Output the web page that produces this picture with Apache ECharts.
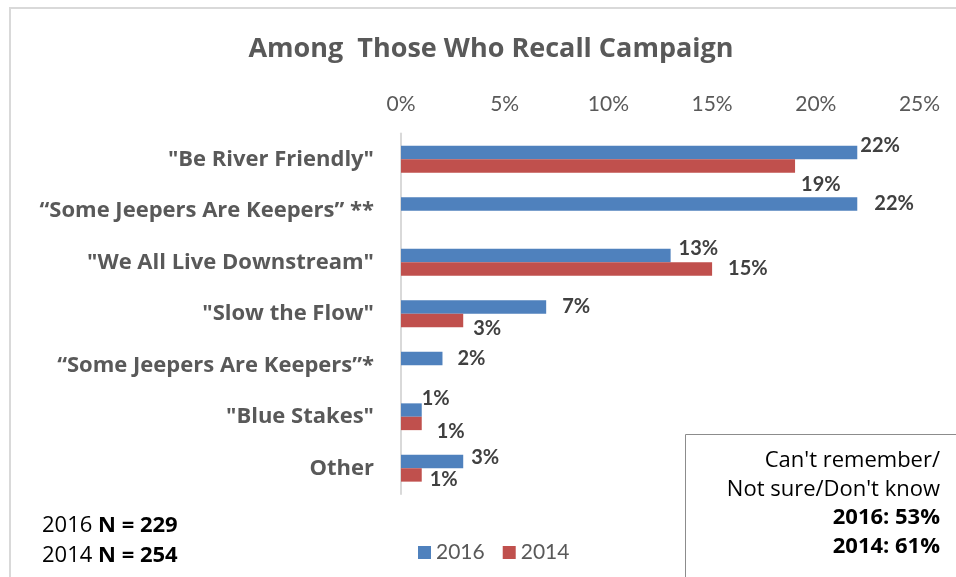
<!DOCTYPE html>
<html>
<head>
<meta charset="utf-8">
<title>Among Those Who Recall Campaign</title>
<script src="https://cdn.jsdelivr.net/npm/echarts@6/dist/echarts.min.js"></script>
<style>
  html, body { margin: 0; padding: 0; background: #ffffff; }
  #chart { width: 956px; height: 577px; }
</style>
</head>
<body>
<div id="chart"></div>
<script>
// Campaign slogans, top to bottom
const categories = [
  '"Be River Friendly"',
  '\u201CSome Jeepers Are Keepers\u201D **',
  '"We All Live Downstream"',
  '"Slow the Flow"',
  '\u201CSome Jeepers Are Keepers\u201D*',
  '"Blue Stakes"',
  'Other'
];

// Share of respondents recalling each campaign (%)
const values2016 = [22, 22, 13, 7, 2, 1, 3];
const values2014 = [19, null, 15, 3, null, 1, 1];

const seriesNames = ['2016', '2014'];
const sampleSizes = ['229', '254'];
const notSure = ['53%', '61%'];

// Hand-placed nudges for the value labels (px from bar end / bar centre)
const labelNudge2016 = [[3, -7], [17, -1], [8, -7], [16, -1], [15, 0], [0, -12], [8, -4]];
const labelNudge2014 = [[6, 19], null, [16, 0], [10, 8.5], null, [15, 8.5], [8, 4.5]];

const NUM_FONT = 'Lato';
const TEXT_FONT = 'Open Sans';

function toItems(values, nudges) {
  return values.map((v, i) => v == null ? null : {
    value: v,
    label: { offset: nudges[i] }
  });
}

const chart = echarts.init(document.getElementById('chart'), null, { renderer: 'canvas' });

const labelStyle = {
  show: true,
  position: 'right',
  distance: 0,
  formatter: '{c}%',
  fontFamily: NUM_FONT,
  fontWeight: 'bold',
  fontSize: 20,
  color: '#404040'
};

const boxLine = (text, y, bold) => ({
  type: 'text',
  x: 940, y: y,
  style: {
    text: text, align: 'right', verticalAlign: 'middle',
    fontFamily: TEXT_FONT, fontSize: 22, fontWeight: bold ? 'bold' : 'normal', fill: '#000000'
  }
});

const sampleLine = (i, y) => ({
  type: 'text',
  x: 42,
  y: y,
  style: {
    text: seriesNames[i] + ' {b|N = ' + sampleSizes[i] + '}',
    verticalAlign: 'middle',
    fontFamily: TEXT_FONT,
    fontSize: 22,
    fill: '#000000',
    rich: { b: { fontFamily: TEXT_FONT, fontSize: 22, fontWeight: 'bold', fill: '#000000' } }
  }
});

chart.setOption({
  animation: false,
  backgroundColor: '#ffffff',
  title: {
    text: 'Among  Those Who Recall Campaign',
    left: 486,
    textAlign: 'center',
    top: 31,
    textStyle: {
      fontFamily: TEXT_FONT,
      fontWeight: 'bold',
      fontSize: 27,
      color: '#595959'
    }
  },
  legend: {
    data: seriesNames,
    left: 413,
    top: 537,
    icon: 'rect',
    itemWidth: 13,
    itemHeight: 13,
    itemGap: 18,
    textStyle: { fontFamily: NUM_FONT, fontSize: 21, color: '#595959' }
  },
  grid: {
    left: 401,
    top: 133.5,
    width: 518.5,
    height: 360.5,
    containLabel: false
  },
  xAxis: {
    type: 'value',
    position: 'top',
    min: 0,
    max: 25,
    interval: 5,
    axisLine: { show: false },
    axisTick: { show: false },
    splitLine: { show: false },
    axisLabel: {
      formatter: '{value}%',
      fontFamily: NUM_FONT,
      fontSize: 21,
      color: '#595959',
      margin: 19
    }
  },
  yAxis: {
    type: 'category',
    inverse: true,
    data: categories,
    axisLine: { show: true, lineStyle: { color: '#d9d9d9', width: 2 } },
    axisTick: { show: false },
    axisLabel: {
      fontFamily: TEXT_FONT,
      fontWeight: 'bold',
      fontSize: 22,
      color: '#595959',
      margin: 27
    }
  },
  series: [
    {
      name: seriesNames[0],
      type: 'bar',
      data: toItems(values2016, labelNudge2016),
      barCategoryGap: '48%',
      barGap: '0%',
      itemStyle: { color: '#4F81BD' },
      label: labelStyle
    },
    {
      name: seriesNames[1],
      type: 'bar',
      data: toItems(values2014, labelNudge2014),
      barCategoryGap: '48%',
      barGap: '0%',
      itemStyle: { color: '#C0504D' },
      label: labelStyle
    }
  ],
  graphic: [
    {
      type: 'rect',
      silent: true,
      z: -10,
      shape: { x: 10, y: 8, width: 980, height: 600 },
      style: { fill: 'none', stroke: '#d9d9d9', lineWidth: 2 }
    },
    sampleLine(0, 526),
    sampleLine(1, 556),
    {
      type: 'group',
      children: [
        {
          type: 'rect',
          shape: { x: 685.5, y: 434.5, width: 300, height: 200 },
          style: { fill: '#ffffff', stroke: '#8c8c8c', lineWidth: 1 }
        },
        boxLine("Can't remember/", 461, false),
        boxLine("Not sure/Don't know", 490, false),
        boxLine(seriesNames[0] + ': ' + notSure[0], 518, true),
        boxLine(seriesNames[1] + ': ' + notSure[1], 547, true)
      ]
    }
  ]
});
</script>
</body>
</html>
